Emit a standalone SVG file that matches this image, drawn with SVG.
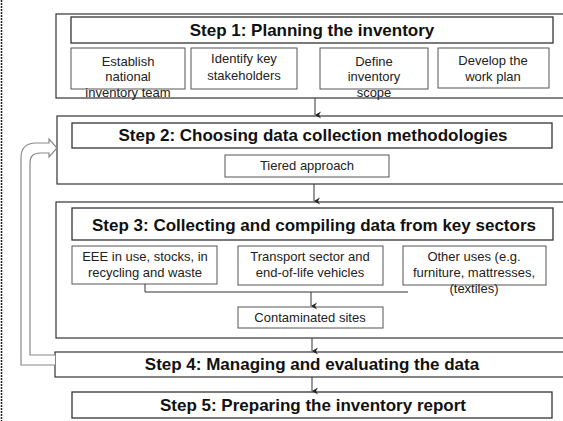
<svg xmlns="http://www.w3.org/2000/svg" width="563" height="421" viewBox="0 0 563 421">
  <defs>
    <marker id="arrow" viewBox="0 0 8 8" refX="4" refY="8" markerWidth="8" markerHeight="8" markerUnits="userSpaceOnUse" orient="auto-start-reverse">
      <path d="M0.5,2 L4,8 L7.5,2 L4,4 Z" fill="#222"/>
    </marker>
    <style>
      .frame { fill: #fff; stroke: #333; stroke-width: 1.2; }
      .title-box { fill: #fff; stroke: #333; stroke-width: 1.3; }
      .sub-box { fill: #fff; stroke: #555; stroke-width: 1; }
      .title { font-family: "Liberation Sans", Arial, sans-serif; font-weight: bold; font-size: 17px; fill: #111; text-anchor: middle; }
      .label { font-family: "Liberation Sans", Arial, sans-serif; font-size: 13px; fill: #222; text-anchor: middle; }
      .conn { fill: none; stroke: #333; stroke-width: 1; }
      .loop { fill: #fff; stroke: #888; stroke-width: 1.2; }
    </style>
  </defs>

  <rect width="563" height="421" fill="#fff"/>
  <!-- page edge -->
  <line x1="1.5" y1="0" x2="1.5" y2="421" stroke="#222" stroke-width="1.5" stroke-dasharray="2 1"/>

  <!-- Step 1 -->
  <g id="step1">
    <rect class="frame" x="56" y="14" width="520" height="84"/>
    <rect class="title-box" x="71" y="17" width="482" height="26"/>
    <text class="title" x="312" y="36">Step 1: Planning the inventory</text>
  </g>
  <g id="step1-team">
    <rect class="sub-box" x="71" y="48" width="114" height="41"/>
    <text class="label" x="128" y="66">Establish</text>
    <text class="label" x="128" y="81">national</text>
    <text class="label" x="128" y="97">inventory team</text>
  </g>
  <g id="step1-stakeholders">
    <rect class="sub-box" x="191" y="48" width="106" height="41"/>
    <text class="label" x="244" y="63">Identify key</text>
    <text class="label" x="244" y="80">stakeholders</text>
  </g>
  <g id="step1-scope">
    <rect class="sub-box" x="320" y="48" width="108" height="41"/>
    <text class="label" x="374" y="66">Define</text>
    <text class="label" x="374" y="81">inventory</text>
    <text class="label" x="374" y="97">scope</text>
  </g>
  <g id="step1-plan">
    <rect class="sub-box" x="438" y="48" width="111" height="40"/>
    <text class="label" x="493" y="65">Develop the</text>
    <text class="label" x="493" y="81">work plan</text>
  </g>

  <!-- Step 2 -->
  <g id="step2">
    <rect class="frame" x="57" y="116" width="520" height="68"/>
    <rect class="title-box" x="72" y="123" width="480" height="25"/>
    <text class="title" x="313" y="141">Step 2: Choosing data collection methodologies</text>
  </g>
  <g id="step2-tiered">
    <rect class="sub-box" x="225" y="155" width="164" height="22"/>
    <text class="label" x="307" y="170">Tiered approach</text>
  </g>

  <!-- Step 3 -->
  <g id="step3">
    <rect class="frame" x="56" y="202" width="520" height="136"/>
    <rect class="title-box" x="72" y="208" width="481" height="32"/>
    <text class="title" x="314" y="231">Step 3: Collecting and compiling data from key sectors</text>
  </g>
  <g id="step3-eee">
    <rect class="sub-box" x="72" y="246" width="145" height="38"/>
    <text class="label" x="145" y="261">EEE in use, stocks, in</text>
    <text class="label" x="145" y="277">recycling and waste</text>
  </g>
  <g id="step3-transport">
    <rect class="sub-box" x="238" y="246" width="145" height="39"/>
    <text class="label" x="310" y="261">Transport sector and</text>
    <text class="label" x="310" y="277">end-of-life vehicles</text>
  </g>
  <g id="step3-other">
    <rect class="sub-box" x="403" y="246" width="143" height="39"/>
    <text class="label" x="474" y="261">Other uses (e.g.</text>
    <text class="label" x="474" y="277">furniture, mattresses,</text>
    <text class="label" x="474" y="293">(textiles)</text>
  </g>
  <g id="step3-sites">
    <rect class="sub-box" x="238" y="307" width="145" height="21"/>
    <text class="label" x="310" y="322">Contaminated sites</text>
  </g>

  <!-- Step 4 -->
  <g id="step4">
    <rect class="frame" x="55" y="352" width="521" height="25"/>
    <text class="title" x="312" y="370">Step 4: Managing and evaluating the data</text>
  </g>

  <!-- Step 5 -->
  <g id="step5">
    <rect class="title-box" x="72" y="392" width="480" height="26"/>
    <text class="title" x="313" y="411">Step 5: Preparing the inventory report</text>
  </g>

  <!-- Connectors -->
  <g id="connectors">
    <line class="conn" x1="315" y1="98" x2="315" y2="115" marker-end="url(#arrow)"/>
    <line class="conn" x1="314" y1="184" x2="314" y2="201" marker-end="url(#arrow)"/>
    <polyline class="conn" points="145,284 145,292 408,292"/>
    <line class="conn" x1="311" y1="292" x2="311" y2="306" marker-end="url(#arrow)"/>
    <line class="conn" x1="312" y1="338" x2="312" y2="351" marker-end="url(#arrow)"/>
    <line class="conn" x1="312" y1="377" x2="312" y2="391" marker-end="url(#arrow)"/>
    <!-- feedback loop from step 4 back to step 2 -->
    <path class="loop" d="M55,365 L21,365 L21,158 Q21,143 36,143 L49,143 L49,139 L57,148 L49,157 L49,153 L40,153 Q30,153 30,163 L30,355 L55,355"/>
  </g>
</svg>
